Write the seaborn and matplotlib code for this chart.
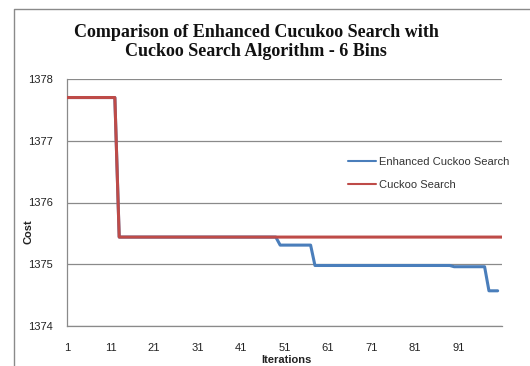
import numpy as np
import pandas as pd
import matplotlib
matplotlib.use("Agg")
import matplotlib.pyplot as plt
from matplotlib.lines import Line2D
import seaborn as sns

# Best cost per iteration, stored as step levels and how many iterations each lasts
series_names = ["Enhanced Cuckoo Search", "Cuckoo Search"]
ecs_levels = [1377.70, 1375.44, 1375.31, 1374.98, 1374.96, 1374.57]
ecs_runs = [12, 37, 8, 32, 8, 3]
cs_levels = [1377.70, 1375.44]
cs_runs = [12, 89]

x_ticks = [1, 11, 21, 31, 41, 51, 61, 71, 81, 91, 101]
x_tick_labels = ["1", "11", "21", "31", "41", "51", "61", "71", "81", "91", ""]
y_ticks = [1374, 1375, 1376, 1377, 1378]

colors = {"Enhanced Cuckoo Search": "#4A7EBB", "Cuckoo Search": "#BE4B48"}

ecs = np.repeat(ecs_levels, ecs_runs)
cs = np.repeat(cs_levels, cs_runs)
df = pd.concat([
    pd.DataFrame({"Iterations": np.arange(1, len(ecs) + 1), "Cost": ecs,
                  "Series": series_names[0]}),
    pd.DataFrame({"Iterations": np.arange(1, len(cs) + 1), "Cost": cs,
                  "Series": series_names[1]}),
], ignore_index=True)

sns.set_theme(style="white")
plt.rcParams["font.family"] = ["Liberation Sans", "DejaVu Sans"]

W, H = 530, 366
fig = plt.figure(figsize=(W / 100, H / 100), dpi=100)
ax = fig.add_axes([67 / W, 1 - 326 / H, (502 - 67) / W, (326 - 79) / H])

sns.lineplot(data=df, x="Iterations", y="Cost", hue="Series",
             hue_order=series_names, palette=colors, linewidth=2.2,
             ax=ax, legend=False, zorder=3)

grey = "#8A8A8A"
ax.set_xlim(1, 101)
ax.set_ylim(1374, 1378)
ax.set_xticks(x_ticks)
ax.set_xticklabels(x_tick_labels)
ax.set_yticks(y_ticks)
ax.tick_params(axis="both", labelsize=8, colors=grey, labelcolor="#222222",
               length=4, width=0.9, direction="out")
ax.tick_params(axis="x", pad=8)
ax.tick_params(axis="y", pad=6)
ax.yaxis.grid(True, color=grey, linewidth=0.9)
ax.xaxis.grid(False)
for side in ("top", "right"):
    ax.spines[side].set_visible(False)
for side in ("left", "bottom"):
    ax.spines[side].set_color(grey)
    ax.spines[side].set_linewidth(0.9)

ax.set_xlabel("")
ax.set_ylabel("")
fig.text(286 / W, 1 - 360 / H, "Iterations", ha="center", va="center",
         fontsize=8, fontweight="bold", color="#222222")
fig.text(29 / W, 1 - 232 / H, "Cost", ha="center", va="center", rotation=90,
         fontsize=8, fontweight="bold", color="#222222")

fig.text(256 / W, 1 - 42 / H,
         "Comparison of Enhanced Cucukoo Search with\nCuckoo Search Algorithm - 6 Bins",
         ha="center", va="center", fontsize=13, fontweight="bold",
         family=["Liberation Serif", "DejaVu Serif"], linespacing=1.2,
         color="#111111")

handles = [Line2D([], [], color=colors[n], linewidth=1.5) for n in series_names]
ax.legend(handles, series_names, loc="upper left",
          bbox_to_anchor=(348 / W, 1 - 157 / H), bbox_transform=fig.transFigure,
          frameon=False, fontsize=8, handlelength=2.5, handletextpad=0.3,
          labelspacing=1.15, borderpad=0, borderaxespad=0, labelcolor="#333333")

# Chart area border
fig.add_artist(Line2D([14 / W, 14 / W, 1.0], [0.0, 1 - 9 / H, 1 - 9 / H],
                      transform=fig.transFigure, color=grey, linewidth=1.0))

fig.savefig("out.png", dpi=100)
